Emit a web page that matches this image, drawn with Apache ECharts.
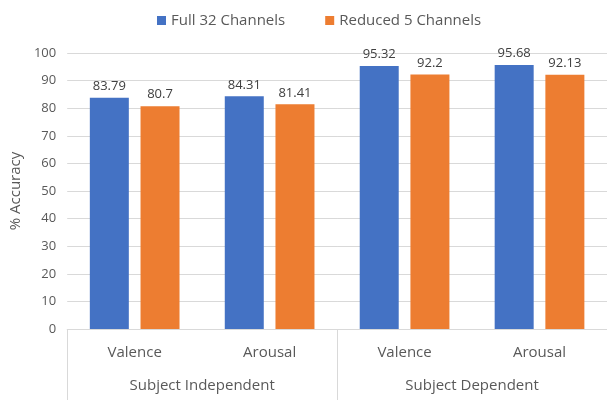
<!DOCTYPE html>
<html>
<head>
<meta charset="utf-8">
<script src="https://cdn.jsdelivr.net/npm/echarts@6/dist/echarts.min.js"></script>
<style>
  html, body { margin: 0; padding: 0; background: #fff; }
  #chart { width: 607px; height: 400px; }
</style>
</head>
<body>
<div id="chart"></div>
<script>
// 数据
const categories = ["Valence", "Arousal", "Valence", "Arousal"];
const groups = ["Subject Independent", "Subject Dependent"];
const full32 = [83.79, 84.31, 95.32, 95.68];
const reduced5 = [80.7, 81.41, 92.2, 92.13];
const yTicks = [0, 100, 10]; // min, max, interval

const textColor = "#595959";
const lineColor = "#d9d9d9";
const fontFamily = "'Open Sans', 'Noto Sans', sans-serif";

const myChart = echarts.init(document.getElementById("chart"));

const labelStyle = {
  show: true,
  position: "top",
  distance: 5,
  color: "#404040",
  fontSize: 13,
  fontFamily: fontFamily,
};

var option = {
  color: ["#4472C4", "#ED7D31"],
  animation: false,
  legend: {
    top: 8,
    left: 152,
    itemWidth: 9,
    itemHeight: 9,
    itemGap: 40,
    icon: "rect",
    textStyle: { color: textColor, fontSize: 15, fontFamily: fontFamily },
    data: ["Full 32 Channels", "Reduced 5 Channels"],
  },
  grid: {
    left: 66,
    right: -6,
    top: 53,
    bottom: 71,
  },
  xAxis: [
    {
      type: "category",
      data: categories,
      axisLine: { show: true, lineStyle: { color: lineColor } },
      axisTick: { show: false },
      axisLabel: {
        color: textColor,
        fontSize: 15,
        fontFamily: fontFamily,
        margin: 16,
      },
    },
    {
      // 外层分组标签 + 分隔竖线
      type: "category",
      data: groups,
      position: "bottom",
      axisLine: { show: false },
      axisTick: {
        show: true,
        alignWithLabel: false,
        length: 75,
        lineStyle: { color: lineColor },
      },
      axisLabel: {
        color: textColor,
        fontSize: 15,
        fontFamily: fontFamily,
        margin: 49,
      },
    },
  ],
  yAxis: {
    type: "value",
    min: yTicks[0],
    max: yTicks[1],
    interval: yTicks[2],
    name: "% Accuracy",
    nameLocation: "middle",
    nameGap: 42,
    nameTextStyle: { color: textColor, fontSize: 15, fontFamily: fontFamily },
    axisLine: { show: false },
    axisTick: { show: false },
    axisLabel: { color: textColor, fontSize: 13, fontFamily: fontFamily, margin: 11 },
    splitLine: { lineStyle: { color: lineColor } },
  },
  series: [
    {
      name: "Full 32 Channels",
      type: "bar",
      barWidth: 39,
      barGap: "30%",
      label: labelStyle,
      data: full32,
    },
    {
      name: "Reduced 5 Channels",
      type: "bar",
      barWidth: 39,
      barGap: "30%",
      label: labelStyle,
      data: reduced5,
    },
  ],
};

myChart.setOption(option);
</script>
</body>
</html>
